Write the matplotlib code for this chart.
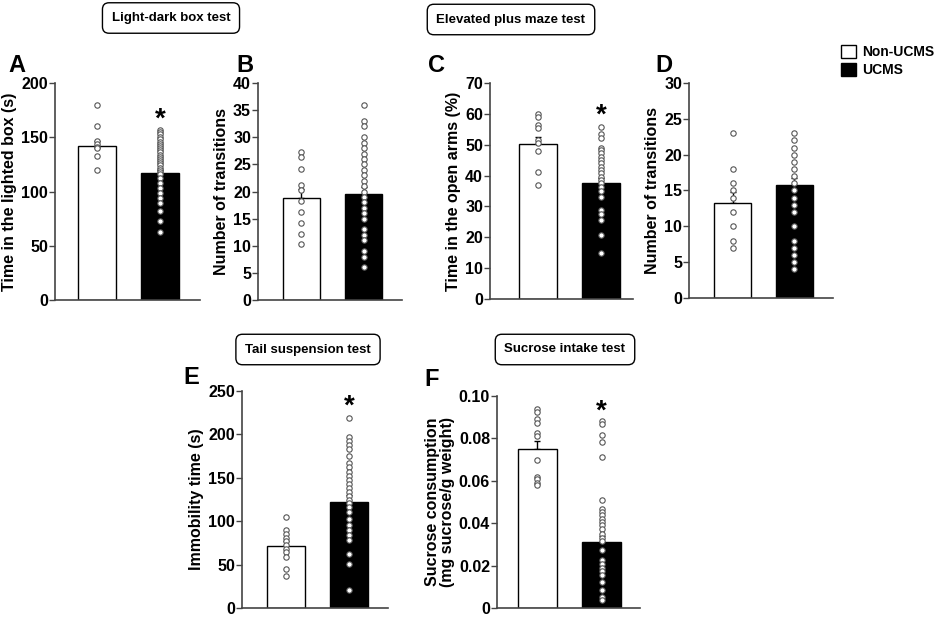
import numpy as np
import matplotlib.pyplot as plt
from matplotlib.patches import Patch

plt.rcParams['font.family'] = ['Liberation Sans', 'DejaVu Sans']
plt.rcParams['font.weight'] = 'bold'

groups = ['Non-UCMS', 'UCMS']

# A: light-dark box, time in lighted box (s)
a_mean = [141.5, 116.6]
a_sem = [5.5, 3.5]
a_ctrl = [180, 160, 147, 144, 141, 140, 133, 120]
a_ucms = [157, 155, 153, 150, 148, 146, 144, 142, 140, 138, 136, 134, 132, 130,
          128, 126, 124, 122, 120, 118, 116, 112, 108, 103, 99, 94, 89, 82, 73, 63]

# B: light-dark box, number of transitions
b_mean = [18.8, 19.6]
b_sem = [1.6, 1.3]
b_ctrl = [27.2, 26.3, 24.2, 21.2, 20.2, 18.2, 16.2, 14.2, 12.2, 10.3]
b_ucms = [36, 33, 32, 30, 29, 28, 27, 26, 25, 24, 23, 22, 21, 20, 19, 18, 17, 16,
          15, 13, 12, 11, 9, 8, 6]

# C: elevated plus maze, time in open arms (%)
c_mean = [50.2, 37.7]
c_sem = [2.3, 1.6]
c_ctrl = [60, 59, 56.5, 55.5, 51.5, 50.5, 48, 41, 37]
c_ucms = [55.7, 53.4, 52.1, 49, 48.3, 47.2, 46.1, 45, 44, 42.9, 41.8, 40.7, 39.6,
          38.5, 37.5, 36.4, 35.1, 33.1, 28.8, 27.7, 25.5, 20.6, 14.9]

# D: elevated plus maze, number of transitions
d_mean = [13.3, 15.7]
d_sem = [1.5, 1.0]
d_ctrl = [23, 18, 16, 15, 14, 12, 10, 8, 7]
d_ucms = [23, 22, 21, 20, 19, 18, 17, 16, 15, 14, 13, 12, 10, 8, 7, 6, 5, 4]

# E: tail suspension, immobility time (s)
e_mean = [71.5, 122]
e_sem = [6, 8]
e_ctrl = [105, 90, 85, 81, 77, 73, 68, 65, 59, 45, 37]
e_ucms = [218.5, 197, 192, 187.7, 182.7, 175, 167, 162.7, 157, 152, 147, 142.7,
          138.5, 134, 129, 125, 120.8, 115.8, 110.8, 103, 96, 89.6, 83.8, 78, 62, 51, 21]

# F: sucrose intake
f_mean = [0.075, 0.0311]
f_sem = [0.004, 0.003]
f_ctrl = [0.094, 0.0925, 0.089, 0.0875, 0.0825, 0.081, 0.070, 0.062, 0.061, 0.059, 0.058]
f_ucms = [0.0882, 0.0866, 0.0814, 0.0783, 0.0712, 0.0511, 0.0469, 0.0453, 0.0437,
          0.0421, 0.0406, 0.039, 0.0371, 0.035, 0.0332, 0.0316, 0.0272, 0.0228,
          0.0209, 0.019, 0.0175, 0.0154, 0.0123, 0.0086, 0.0052, 0.0036]

panels = [
    # letter, ylabel, means, sems, ctrl, ucms, yticks, ticklabels, star y
    ('A', 'Time in the lighted box (s)', a_mean, a_sem, a_ctrl, a_ucms,
     [0, 50, 100, 150, 200], None, 166),
    ('B', 'Number of transitions', b_mean, b_sem, b_ctrl, b_ucms,
     [0, 5, 10, 15, 20, 25, 30, 35, 40], None, None),
    ('C', 'Time in the open arms (%)', c_mean, c_sem, c_ctrl, c_ucms,
     [0, 10, 20, 30, 40, 50, 60, 70], None, 59.5),
    ('D', 'Number of transitions', d_mean, d_sem, d_ctrl, d_ucms,
     [0, 5, 10, 15, 20, 25, 30], None, None),
    ('E', 'Immobility time (s)', e_mean, e_sem, e_ctrl, e_ucms,
     [0, 50, 100, 150, 200, 250], None, 232),
    ('F', 'Sucrose consumption\n(mg sucrose/g weight)', f_mean, f_sem, f_ctrl, f_ucms,
     [0, 0.02, 0.04, 0.06, 0.08, 0.10], ['0', '0.02', '0.04', '0.06', '0.08', '0.10'], 0.0925),
]

# pixel boxes: left, top, right, bottom ; xlim ; letter position
W, H = 941, 619
boxes = [
    (55, 83, 200, 300, (-0.667, 1.635), (8, 66)),
    (258, 83, 402, 300, (-0.70, 1.62), (236, 66)),
    (490, 83, 633, 299, (-0.75, 1.5), (428, 66)),
    (689, 83, 833, 298, (-0.71, 1.63), (655, 66)),
    (242, 391, 388, 608, (-0.70, 1.62), (183, 377)),
    (497, 396, 640, 608, (-0.63, 1.60), (424, 380)),
]

fig = plt.figure(figsize=(9.41, 6.19), dpi=100)
axc = '#444444'

for (letter, ylab, means, sems, ctrl, ucms, yt, ytl, star), (l, t, r, b, xl, lp) in zip(panels, boxes):
    ax = fig.add_axes([l / W, 1 - b / H, (r - l) / W, (b - t) / H])
    ax.bar([0, 1], means, width=0.6, color=['white', 'black'], edgecolor='black',
           linewidth=1.0, zorder=2)
    ax.errorbar([0, 1], means, yerr=[[0, 0], sems], fmt='none', ecolor='black',
                elinewidth=1.0, capsize=2, capthick=1.0, zorder=1.5)
    ax.scatter(np.zeros(len(ctrl)), ctrl, s=15, facecolor='white', edgecolor='#555555',
               linewidth=0.8, zorder=3)
    ax.scatter(np.ones(len(ucms)), ucms, s=15, facecolor='white', edgecolor='#555555',
               linewidth=0.8, zorder=3)
    if star is not None:
        ax.text(1, star, '*', ha='center', va='center', fontsize=20, fontweight='bold')
    ax.set_xlim(*xl)
    ax.set_ylim(0, yt[-1])
    ax.set_yticks(yt)
    if ytl:
        ax.set_yticklabels(ytl)
    ax.set_xticks([])
    for s in ['top', 'right']:
        ax.spines[s].set_visible(False)
    for s in ['left', 'bottom']:
        ax.spines[s].set_color(axc)
        ax.spines[s].set_linewidth(1.2)
    ax.tick_params(axis='y', length=4, width=1, color=axc, labelsize=11.5, pad=1)
    ax.set_ylabel(ylab, fontsize=11.5, fontweight='bold', labelpad=3, linespacing=1.0)
    fig.text(lp[0] / W, 1 - lp[1] / H, letter, fontsize=17, fontweight='bold',
             ha='left', va='center')

# test name boxes
titles = ['Light-dark box test', 'Elevated plus maze test', 'Tail suspension test', 'Sucrose intake test']
tpos = [(171, 18), (511, 19.5), (308, 349.5), (565, 349.5)]
for txt, (x, y) in zip(titles, tpos):
    fig.text(x / W, 1 - y / H, txt, ha='center', va='center', fontsize=9.5, fontweight='bold',
             bbox=dict(boxstyle='round,pad=0.7,rounding_size=0.5', fc='white', ec='black', lw=1.0))

handles = [Patch(facecolor='white', edgecolor='black', label=groups[0]),
           Patch(facecolor='black', edgecolor='black', label=groups[1])]
fig.legend(handles=handles, loc='upper left', bbox_to_anchor=(841 / W, 1 - 45 / H), frameon=False,
           prop={'weight': 'bold', 'size': 10}, handlelength=1.1, handleheight=1.1,
           handletextpad=0.4, labelspacing=0.25, borderaxespad=0, borderpad=0)

fig.savefig('out.png', dpi=100)
